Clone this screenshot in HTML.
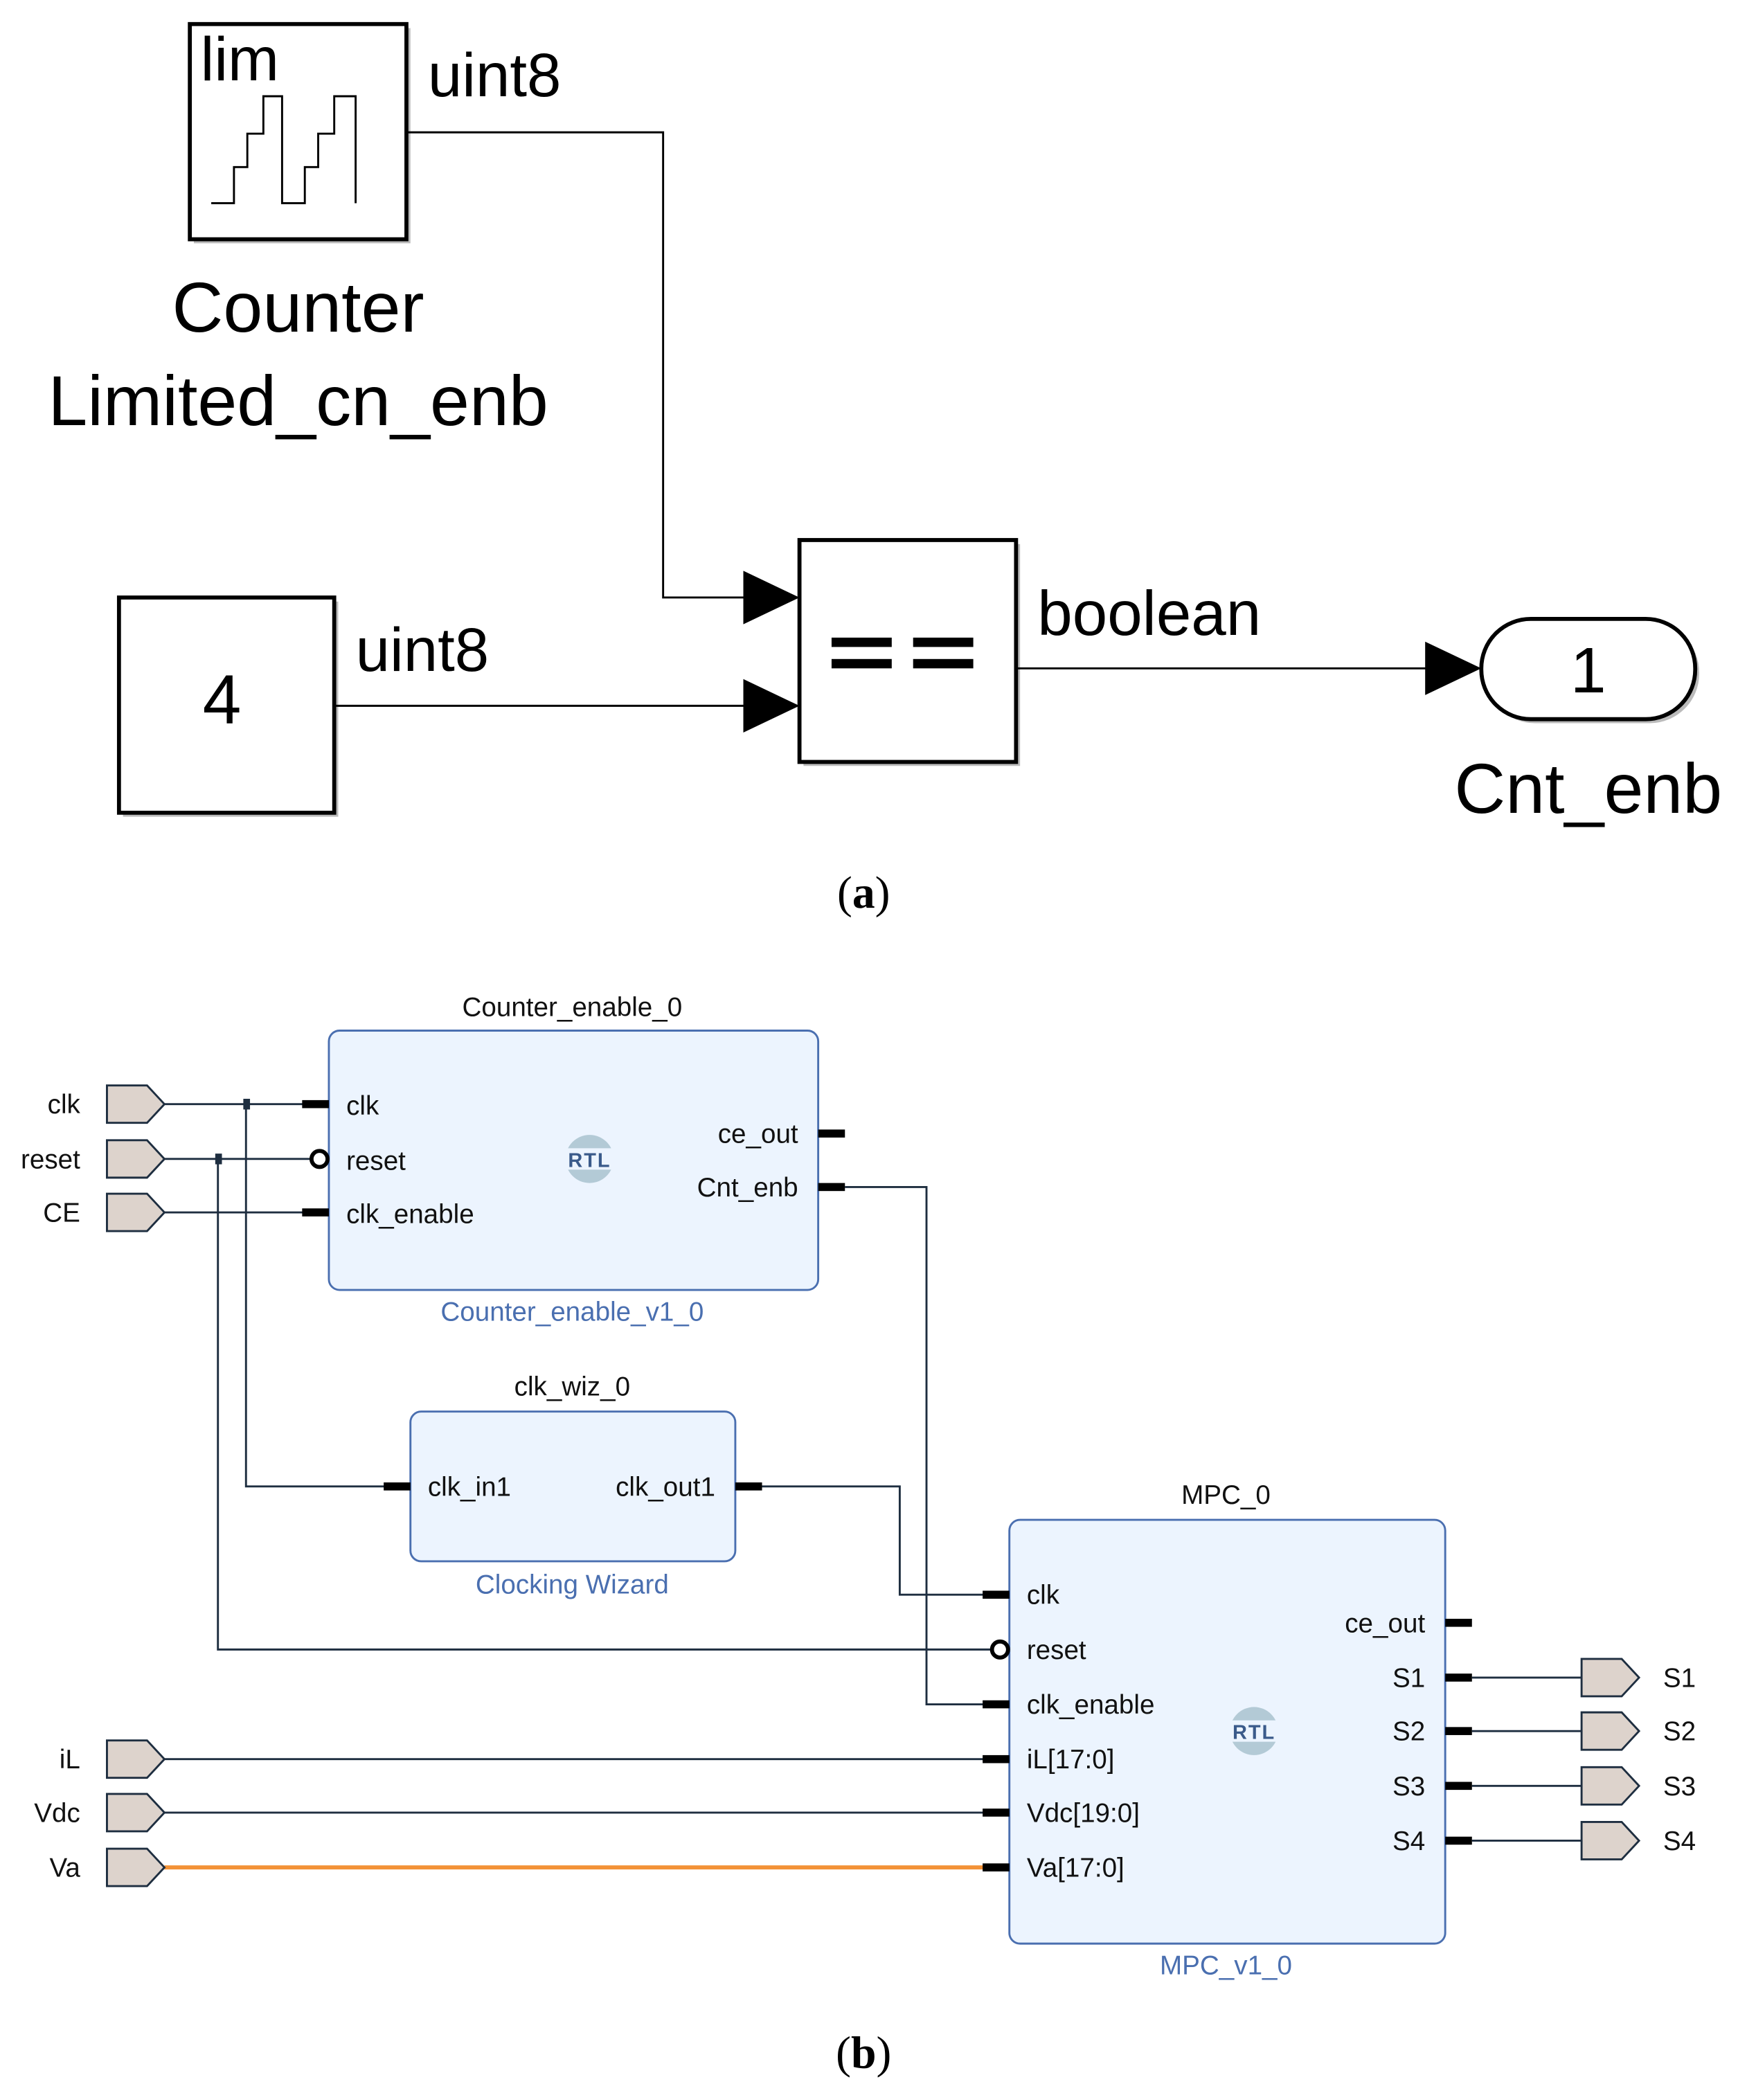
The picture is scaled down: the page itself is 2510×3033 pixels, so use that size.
<!DOCTYPE html>
<html><head><meta charset="utf-8"><style>
html,body{margin:0;padding:0;background:#fff;}
svg{display:block;}
text{font-family:"Liberation Sans",sans-serif;}
.b text{font-size:20px;fill:#111;}
</style></head><body>
<svg width="2510" height="3033" viewBox="0 0 1300 1571" preserveAspectRatio="none" xmlns="http://www.w3.org/2000/svg">
<defs>
<g id="rtl"><circle r="18" fill="#b3cad6"/><rect x="-19" y="-8" width="38" height="16" fill="#ecf4fe"/><text x="0" y="6" text-anchor="middle" style="font-size:15px;font-weight:bold;fill:#3a5a8a;letter-spacing:1px">RTL</text></g>
<path id="port" d="M0,-14 H30 L43,0 L30,14 H0 Z" fill="#ddd3cc" stroke="#1e2e40" stroke-width="1.5"/>
</defs>
<!-- (a) -->
<g fill="none" stroke="#000">
<rect x="145" y="21" width="162" height="161" fill="#bbb" stroke="none"/>
<rect x="142" y="18" width="162" height="161" fill="#fff" stroke-width="3"/>
<path d="M158,152 H175 V125 H185 V100 H197 V72 H211 V152 H228 V125 H238 V100 H250 V72 H266 V152" stroke-width="1.5"/>
<rect x="92" y="450" width="161" height="161" fill="#bbb" stroke="none"/>
<rect x="89" y="447" width="161" height="161" fill="#fff" stroke-width="3"/>
<rect x="601" y="407" width="162" height="166" fill="#bbb" stroke="none"/>
<rect x="598" y="404" width="162" height="166" fill="#fff" stroke-width="3"/>
<rect x="1111" y="466" width="160" height="75" rx="37" fill="#bbb" stroke="none"/>
<rect x="1108" y="463" width="160" height="75" rx="37" fill="#fff" stroke-width="3"/>
<path d="M304,99 H496 V447 H560" stroke-width="1.5"/>
<path d="M250,528 H560" stroke-width="1.5"/>
<path d="M760,500 H1070" stroke-width="1.5"/>
</g>
<path d="M556,427 L598,447 L556,467Z M556,508 L598,528 L556,548Z M1066,480 L1108,500 L1066,520Z" fill="#000"/>
<rect x="622" y="477" width="45" height="7" fill="#000"/><rect x="622" y="493" width="45" height="7" fill="#000"/>
<rect x="683" y="477" width="45" height="7" fill="#000"/><rect x="683" y="493" width="45" height="7" fill="#000"/>
<text x="150" y="60" font-size="46">lim</text>
<text x="320" y="72" font-size="46">uint8</text>
<text x="223" y="248" font-size="53" text-anchor="middle">Counter</text>
<text x="223" y="318" font-size="53" text-anchor="middle">Limited_cn_enb</text>
<text x="166" y="541" font-size="52" text-anchor="middle">4</text>
<text x="266" y="502" font-size="46">uint8</text>
<text x="776" y="475" font-size="47">boolean</text>
<text x="1188" y="518" font-size="48" text-anchor="middle">1</text>
<text x="1188" y="608" font-size="53" text-anchor="middle">Cnt_enb</text>
<text x="646" y="679" font-size="34" text-anchor="middle" style="font-family:'Liberation Serif',serif">(<tspan font-weight="bold">a</tspan>)</text>
<text x="646" y="1547" font-size="34" text-anchor="middle" style="font-family:'Liberation Serif',serif">(<tspan font-weight="bold">b</tspan>)</text>
<!-- (b) -->
<g class="b">
<rect x="246" y="771" width="366" height="194" rx="8" fill="#ecf4fe" stroke="#4a6fb0" stroke-width="1.5"/>
<rect x="307" y="1056" width="243" height="112" rx="8" fill="#ecf4fe" stroke="#4a6fb0" stroke-width="1.5"/>
<rect x="755" y="1137" width="326" height="317" rx="8" fill="#ecf4fe" stroke="#4a6fb0" stroke-width="1.5"/>
<g fill="none" stroke="#1e2e40" stroke-width="1.5">
<path d="M123,826 H228 M123,867 H232 M123,907 H228"/>
<path d="M184,826 V1112 H290 M163,867 V1234 H741"/>
<path d="M632,888 H693 V1275 H737 M570,1112 H673 V1193 H737"/>
<path d="M123,1316 H737 M123,1356 H737"/>
<path d="M1101,1255 H1183 M1101,1295 H1183 M1101,1336 H1183 M1101,1377 H1183"/>
</g>
<path d="M123,1397 H737" stroke="#f39237" stroke-width="3"/>
<g fill="#000">
<rect x="226" y="823" width="20" height="6"/><rect x="226" y="904" width="20" height="6"/>
<rect x="612" y="845" width="20" height="6"/><rect x="612" y="885" width="20" height="6"/>
<rect x="287" y="1109" width="20" height="6"/><rect x="550" y="1109" width="20" height="6"/>
<rect x="735" y="1190" width="20" height="6"/><rect x="735" y="1272" width="20" height="6"/>
<rect x="735" y="1313" width="20" height="6"/><rect x="735" y="1353" width="20" height="6"/><rect x="735" y="1394" width="20" height="6"/>
<rect x="1081" y="1211" width="20" height="6"/><rect x="1081" y="1252" width="20" height="6"/><rect x="1081" y="1292" width="20" height="6"/><rect x="1081" y="1333" width="20" height="6"/><rect x="1081" y="1374" width="20" height="6"/>
<rect x="182" y="822" width="5" height="8" fill="#1e2e40"/><rect x="161" y="863" width="5" height="8" fill="#1e2e40"/>
</g>
<circle cx="239" cy="867" r="6" fill="#fff" stroke="#000" stroke-width="3"/>
<circle cx="748" cy="1234" r="6" fill="#fff" stroke="#000" stroke-width="3"/>
<use href="#port" x="80" y="826"/><use href="#port" x="80" y="867"/><use href="#port" x="80" y="907"/>
<use href="#port" x="80" y="1316"/><use href="#port" x="80" y="1356"/><use href="#port" x="80" y="1397"/>
<use href="#port" x="1183" y="1255"/><use href="#port" x="1183" y="1295"/><use href="#port" x="1183" y="1336"/><use href="#port" x="1183" y="1377"/>
<use href="#rtl" x="441" y="867"/><use href="#rtl" x="938" y="1295"/>
<g text-anchor="end">
<text x="60" y="833">clk</text><text x="60" y="874">reset</text><text x="60" y="914">CE</text>
<text x="60" y="1323">iL</text><text x="60" y="1363">Vdc</text><text x="60" y="1404">Va</text>
<text x="597" y="855">ce_out</text><text x="597" y="895">Cnt_enb</text>
<text x="535" y="1119">clk_out1</text>
<text x="1066" y="1221">ce_out</text><text x="1066" y="1262">S1</text><text x="1066" y="1302">S2</text><text x="1066" y="1343">S3</text><text x="1066" y="1384">S4</text>
</g>
<text x="259" y="834">clk</text><text x="259" y="875">reset</text><text x="259" y="915">clk_enable</text>
<text x="320" y="1119">clk_in1</text>
<text x="768" y="1200">clk</text><text x="768" y="1241">reset</text><text x="768" y="1282">clk_enable</text>
<text x="768" y="1323">iL[17:0]</text><text x="768" y="1363">Vdc[19:0]</text><text x="768" y="1404">Va[17:0]</text>
<text x="1244" y="1262">S1</text><text x="1244" y="1302">S2</text><text x="1244" y="1343">S3</text><text x="1244" y="1384">S4</text>
<g text-anchor="middle">
<text x="428" y="760">Counter_enable_0</text>
<text x="428" y="988" style="fill:#4a6fb0">Counter_enable_v1_0</text>
<text x="428" y="1044">clk_wiz_0</text>
<text x="428" y="1192" style="fill:#4a6fb0">Clocking Wizard</text>
<text x="917" y="1125">MPC_0</text>
<text x="917" y="1477" style="fill:#4a6fb0">MPC_v1_0</text>
</g>
</g>
</svg>
</body></html>
